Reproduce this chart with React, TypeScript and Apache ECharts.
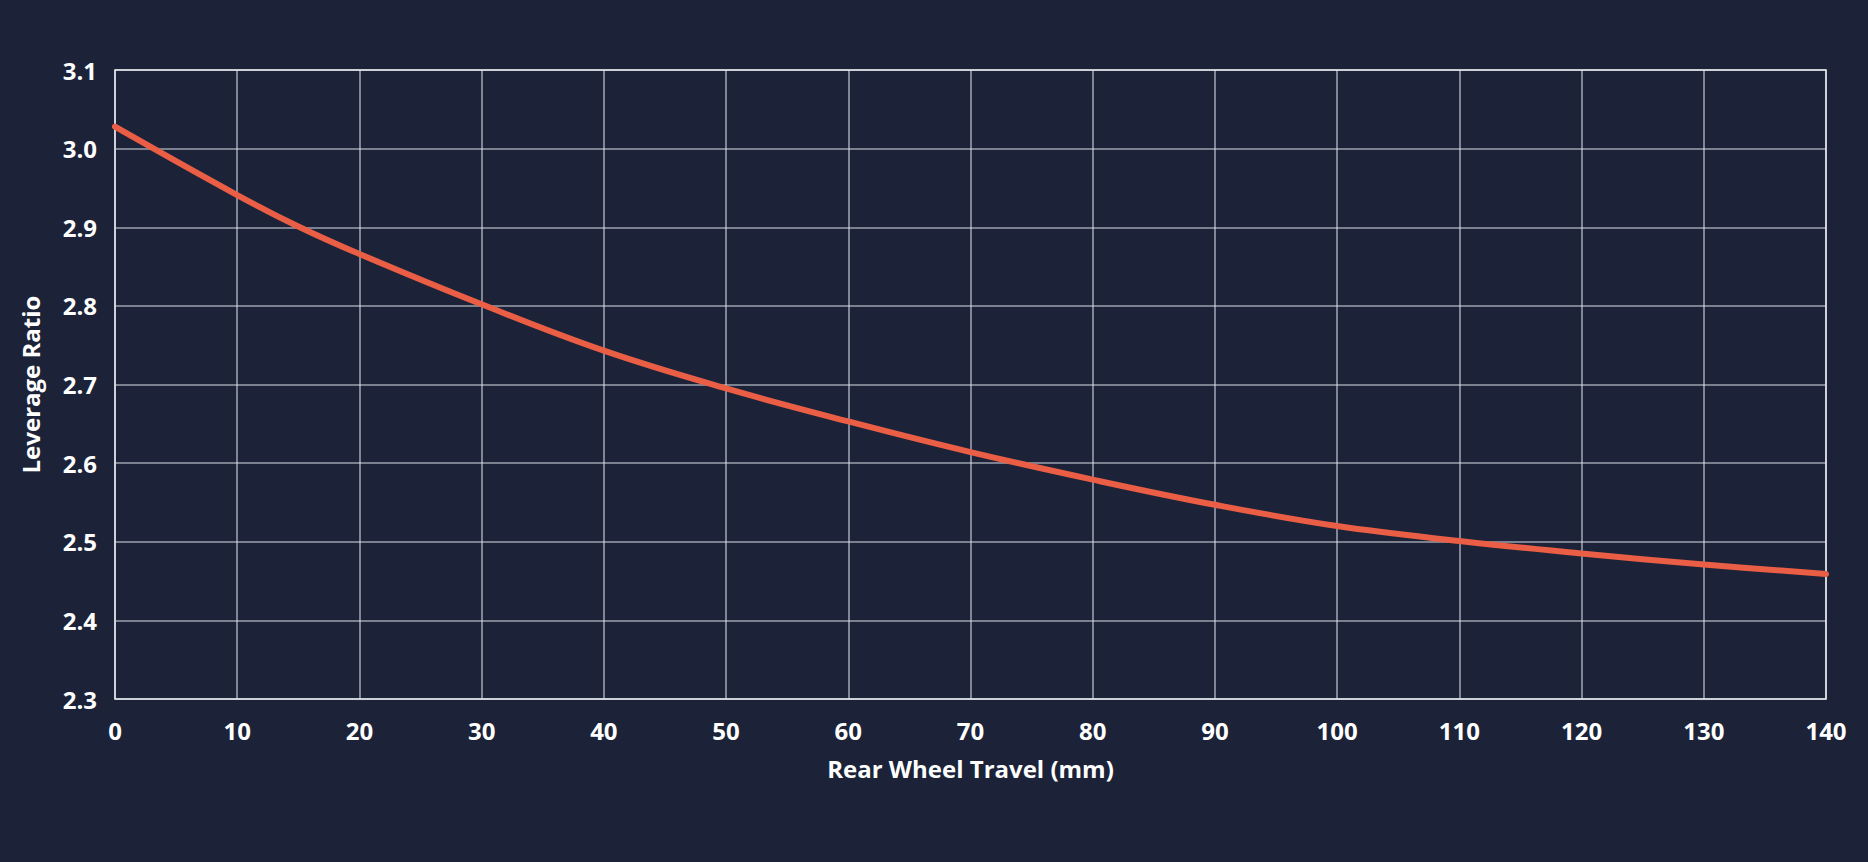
import React, { useEffect, useRef } from "react";
import * as echarts from "echarts";

const travelMm = [0, 10, 15, 20, 30, 40, 50, 60, 70, 80, 90, 100, 110, 120, 130, 140];
const leverageRatio = [3.028, 2.941, 2.901, 2.866, 2.802, 2.743, 2.695, 2.653, 2.614, 2.579, 2.547, 2.52, 2.501, 2.485, 2.471, 2.459];

const xMin = 0;
const xMax = 140;
const xStep = 10;
const yMin = 2.3;
const yMax = 3.1;
const yStep = 0.1;

const xAxisTitle = "Rear Wheel Travel (mm)";
const yAxisTitle = "Leverage Ratio";

export default function App() {
  const ref = useRef<HTMLDivElement>(null);

  useEffect(() => {
    document.body.style.margin = "0";
    document.body.style.background = "#1c2338";
    if (!ref.current) return;
    const chart = echarts.init(ref.current, null, { renderer: "svg" });
    const font = "'Open Sans', 'Noto Sans', sans-serif";
    chart.setOption({
      animation: false,
      backgroundColor: "#1c2338",
      grid: {
        left: 115,
        right: 42,
        top: 70,
        bottom: 163,
        show: true,
        borderColor: "#f2f2f2",
        borderWidth: 1.5,
        containLabel: false,
      },
      xAxis: {
        type: "value",
        min: xMin,
        max: xMax,
        interval: xStep,
        name: xAxisTitle,
        nameLocation: "middle",
        nameGap: 57,
        nameTextStyle: { color: "#ffffff", fontSize: 24, fontWeight: "bold", fontFamily: font },
        axisLine: { show: false },
        axisTick: { show: false },
        axisLabel: { color: "#ffffff", fontSize: 24, fontWeight: "bold", fontFamily: font, margin: 19 },
        splitLine: { show: true, lineStyle: { color: "rgba(225,228,236,0.65)", width: 1.6 } },
      },
      yAxis: {
        type: "value",
        min: yMin,
        max: yMax,
        interval: yStep,
        name: yAxisTitle,
        nameLocation: "middle",
        nameGap: 73,
        nameRotate: 90,
        nameTextStyle: { color: "#ffffff", fontSize: 24, fontWeight: "bold", fontFamily: font },
        axisLine: { show: false },
        axisTick: { show: false },
        axisLabel: {
          color: "#ffffff",
          fontSize: 24,
          fontWeight: "bold",
          fontFamily: font,
          margin: 18,
          formatter: (v: number) => v.toFixed(1),
        },
        splitLine: { show: true, lineStyle: { color: "rgba(225,228,236,0.65)", width: 1.6 } },
      },
      series: [
        {
          type: "line",
          data: travelMm.map((x, i) => [x, leverageRatio[i]]),
          smooth: 0.4,
          symbol: "none",
          lineStyle: { color: "#ea5e45", width: 6, cap: "round" },
        },
      ],
    });
    return () => chart.dispose();
  }, []);

  return <div ref={ref} style={{ width: 1868, height: 862 }} />;
}
